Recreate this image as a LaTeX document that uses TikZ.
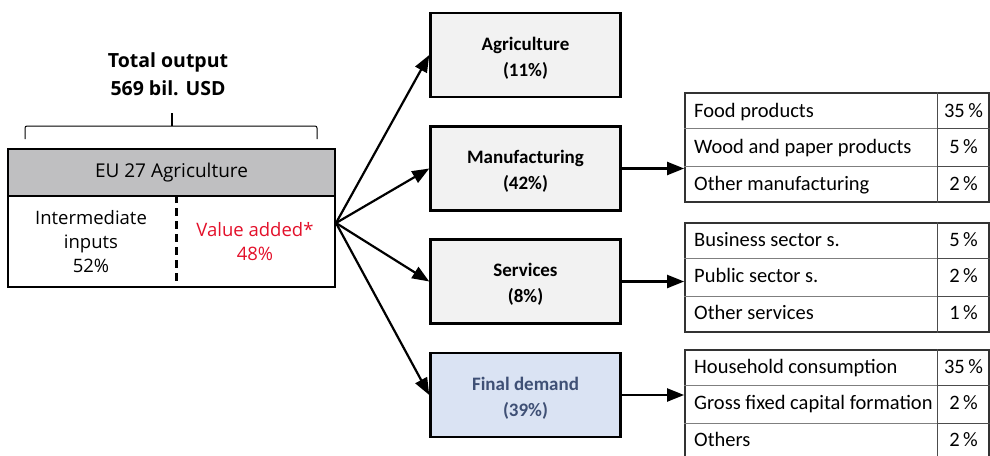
\documentclass[tikz,border=0pt]{standalone}
\usepackage{fontspec}
\setmainfont{Carlito}
\newfontfamily\opensans{Open Sans}
\usetikzlibrary{arrows.meta}

\definecolor{hdrgray}{HTML}{BFBFC1}
\definecolor{boxgray}{HTML}{F2F2F2}
\definecolor{boxblue}{HTML}{DAE3F3}
\definecolor{txtblue}{HTML}{3F5075}
\definecolor{vared}{HTML}{E3102A}
\definecolor{rulegray}{HTML}{7F7F7F}

\tikzset{
	sector/.style={draw, line width=2.5pt, fill=boxgray, minimum width=190pt, minimum height=84pt, inner sep=0pt},
	sectortxt/.style={align=center, inner sep=0pt, font=\fontsize{19}{26}\selectfont\bfseries},
	flow/.style={line width=2.2pt, -{Triangle[length=17pt,width=13pt]}},
	tabframe/.style={draw=black!80, line width=1.8pt, minimum width=304pt, minimum height=109pt, inner sep=0pt},
	celltext/.style={anchor=base west, inner sep=0pt, font=\fontsize{20.5}{24}\selectfont},
	cellval/.style={anchor=base, inner sep=0pt, font=\fontsize{20.5}{24}\selectfont},
	lefttext/.style={align=center, font=\opensans\fontsize{18.5}{24}\selectfont}
}

\begin{document}
\begin{tikzpicture}[x=1pt,y=-1pt]
	\useasboundingbox (0,0) rectangle (990,455);
	
	%TITLE
	\node[align=center, font=\opensans\bfseries\fontsize{19.5}{28}\selectfont] (title) at (168,74) {Total output\\569 bil. USD};
	\draw[line width=1pt, rounded corners=2pt] (25,139)--(25,126)--(172,126)--(317,126)--(317,139);
	\draw[line width=1.6pt] (172,126)--(172,113);
	
	%MAIN BOX
	\node[draw, fill=hdrgray, line width=1.6pt, minimum width=327pt, minimum height=47pt, inner sep=0pt, font=\opensans\fontsize{19}{20}\selectfont] (eu) at (171.5,172.5) {EU 27 Agriculture};
	\node[draw, line width=1.6pt, minimum width=327pt, minimum height=91pt, inner sep=0pt] (body) at (171.5,241.5) {};
	\coordinate (div) at (176,0);
	\draw[line width=3pt, dash pattern=on 8pt off 5pt] (body.north -| div)--(body.south -| div);
	\node[lefttext] (inter) at (91,242) {Intermediate\\inputs\\52\%};
	\node[lefttext, text=vared] (va) at (255,242) {Value added*\\48\%};
	\coordinate (fan) at (336,223);
	
	%SECTORS
	\node[sector] (agri) at (525.5,55) {};
	\node[sector] (manu) at (525.5,168.5) {};
	\node[sector] (serv) at (525.5,281.5) {};
	\node[sector, fill=boxblue] (fd) at (525.5,395) {};
	\foreach \s/\x in {agri/{Agriculture\\(11\%)},manu/{Manufacturing\\(42\%)},serv/{Services\\(8\%)}}
	\node[sectortxt] (\s-txt) at ([yshift=-3pt]\s.center) {\x};
	\node[sectortxt, text=txtblue] (fd-txt) at ([yshift=-3pt]fd.center) {Final demand\\(39\%)};
	\foreach \s in {agri,manu,serv,fd}
	\draw[flow] (fan)--(\s.west);
	
	%TABLES
	\node[tabframe] (tab1) at (837,147.5) {};
	\node[tabframe] (tab2) at (837,277.5) {};
	\node[tabframe] (tab3) at (837,404.5) {};
	\foreach \t in {1,2,3}{
		\draw[line width=1pt, black!70] (tab\t.north -| 937,0)--(tab\t.south -| 937,0);
		\draw[line width=0.8pt, rulegray] ([yshift=-36.3pt]tab\t.north west)--([yshift=-36.3pt]tab\t.north -| 937,0);
		\draw[line width=0.8pt, rulegray] ([yshift=36.3pt]tab\t.south west)--([yshift=36.3pt]tab\t.south -| 937,0);
		\draw[line width=0.8pt, black!70] ([yshift=-36.3pt]tab\t.north -| 937,0)--([yshift=-36.3pt]tab\t.north east);
		\draw[line width=0.8pt, black!70] ([yshift=36.3pt]tab\t.south -| 937,0)--([yshift=36.3pt]tab\t.south east);
	}
	\draw[flow] (manu.east)--(manu.east -| tab1.west);
	\draw[flow] (serv.east)--(serv.east -| tab2.west);
	\draw[flow] (fd.east)--(fd.east -| tab3.west);
	
	%LABELS -- TABLES
	\foreach \x/\n [count=\i] in {{Food products}/{35},{Wood and paper products}/{5},{Other manufacturing}/{2}}{
		\node[celltext] (m\i) at (694,80.5+36.5*\i) {\x};
		\node[cellval] (mv\i) at (963.5,80.5+36.5*\i) {\n\,\%};
	}
	\foreach \x/\n [count=\i] in {{Business sector s.}/{5},{Public sector s.}/{2},{Other services}/{1}}{
		\node[celltext] (s\i) at (694,209.5+36.5*\i) {\x};
		\node[cellval] (sv\i) at (963.5,209.5+36.5*\i) {\n\,\%};
	}
	\foreach \x/\n [count=\i] in {{Household consumption}/{35},{Gross fixed capital formation}/{2},{Others}/{2}}{
		\node[celltext] (f\i) at (694,336.5+36.5*\i) {\x};
		\node[cellval] (fv\i) at (963.5,336.5+36.5*\i) {\n\,\%};
	}
	
\end{tikzpicture}
\end{document}
